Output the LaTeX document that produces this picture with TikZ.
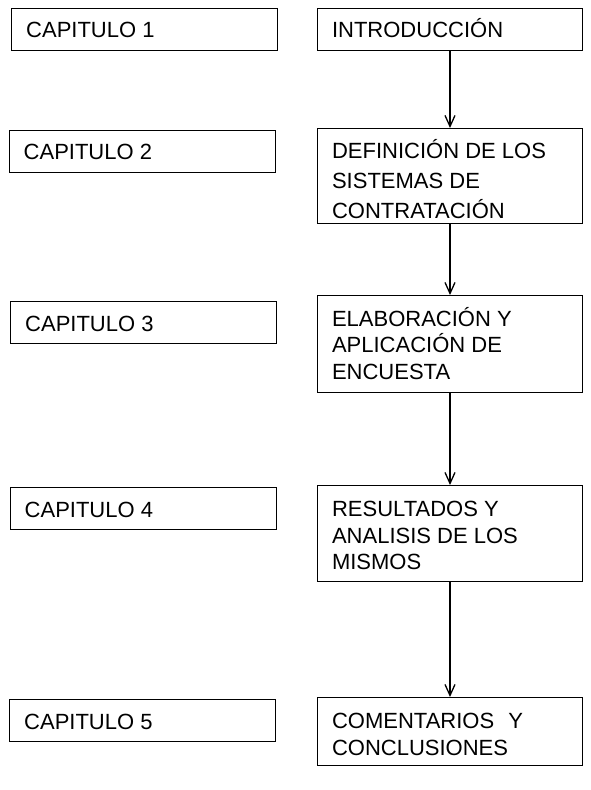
\documentclass[tikz,border=0pt]{standalone}
\usepackage{fontspec}
\setmainfont{Liberation Sans}
\usetikzlibrary{arrows.meta,positioning}
\tikzset{
  box/.style={draw=black, line width=1.3pt, fill=none, inner sep=0pt, minimum width=266pt},
  rbox/.style={box, minimum width=265pt, anchor=north},
  lbox/.style={box, minimum height=42pt, anchor=north west},
  txt/.style={inner sep=0pt, anchor=base west, font=\fontsize{22}{26}\selectfont},
  arr/.style={line width=1.3pt, -{Straight Barb[length=11pt,width=10pt,line width=1.3pt]}}
}
\begin{document}
\begin{tikzpicture}[x=1pt,y=-1pt]
\useasboundingbox[fill=white] (0,0) rectangle (591,790);
% left column
\node[lbox] (L1) at (11,8) {};
\node[lbox] (L2) at (8.5,129.5) {};
\node[lbox] (L3) at (10,301) {};
\node[lbox] (L4) at (9.5,487) {};
\node[lbox] (L5) at (9,699) {};
\node[txt] (tL1) at ([shift={(15pt,-29.5pt)}]L1.north west) {CAPITULO 1};
\node[txt] (tL2) at ([shift={(15pt,-30pt)}]L2.north west) {CAPITULO 2};
\node[txt] (tL3) at ([shift={(15pt,-30pt)}]L3.north west) {CAPITULO 3};
\node[txt] (tL4) at ([shift={(15pt,-30pt)}]L4.north west) {CAPITULO 4};
\node[txt] (tL5) at ([shift={(15pt,-30pt)}]L5.north west) {CAPITULO 5};
% right column
\node[rbox, minimum height=42pt] (R1) at (450,8) {};
\node[rbox, minimum height=95pt] (R2) at (450,128) {};
\node[rbox, minimum height=97pt] (R3) at (450,295) {};
\node[rbox, minimum height=96pt] (R4) at (450,485) {};
\node[rbox, minimum height=68pt] (R5) at (450,697) {};
\node[txt] (tR1) at ([shift={(15pt,-29.5pt)}]R1.north west) {INTRODUCCIÓN};
\node[txt] (tR2) at ([shift={(15pt,-30.3pt)}]R2.north west)
  {\vtop{\baselineskip=30pt\hbox{DEFINICIÓN DE LOS}\hbox{SISTEMAS DE}\hbox{CONTRATACIÓN}}};
\node[txt] (tR3) at ([shift={(15pt,-31pt)}]R3.north west)
  {\vtop{\baselineskip=26.7pt\hbox{ELABORACIÓN Y}\hbox{APLICACIÓN DE}\hbox{ENCUESTA}}};
\node[txt] (tR4) at ([shift={(15pt,-31.5pt)}]R4.north west)
  {\vtop{\baselineskip=26.7pt\hbox{RESULTADOS Y}\hbox{ANALISIS DE LOS}\hbox{MISMOS}}};
\node[txt] (tR5) at ([shift={(15pt,-31.3pt)}]R5.north west)
  {\vtop{\baselineskip=26.7pt\hbox{COMENTARIOS\ \hspace{8pt}Y}\hbox{CONCLUSIONES}}};
% connectors
\draw[arr] (R1) -- (R2);
\draw[arr] (R2) -- (R3);
\draw[arr] (R3) -- (R4);
\draw[arr] (R4) -- (R5);
\end{tikzpicture}
\end{document}
